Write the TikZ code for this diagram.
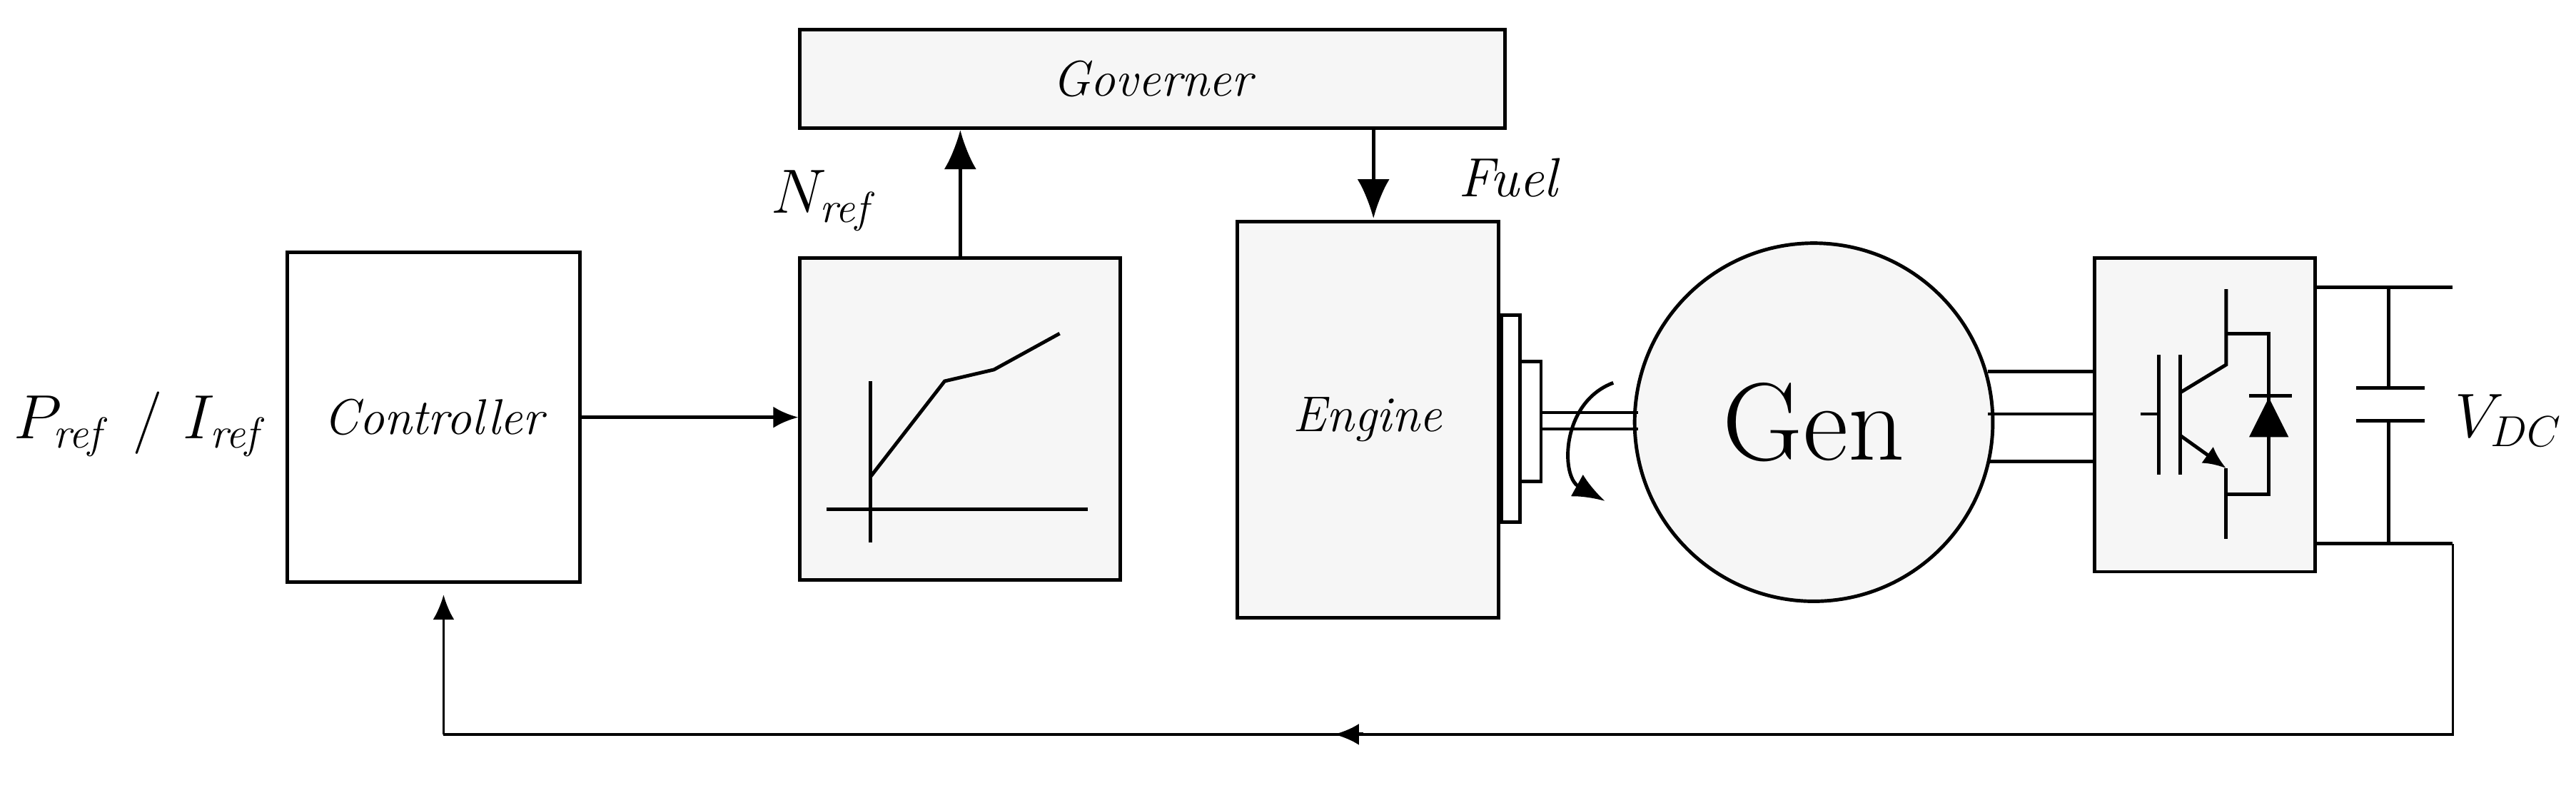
\documentclass[tikz,border=0pt]{standalone}
\usetikzlibrary{arrows.meta}
\usetikzlibrary{positioning}
\tikzset{
  blk/.style={draw,line width=1.4pt,fill=gray!7,inner sep=0pt},
  lbl/.style={font=\fontsize{20}{24}\selectfont\itshape},
  wire/.style={line width=1.4pt}
}
\begin{document}
\begin{tikzpicture}[x=0.023017cm,y=-0.023017cm,>={Latex[length=0.35cm,width=0.3cm]},line width=1.4pt]
\useasboundingbox (0,0) rectangle (1568,479.6);

\node[font=\fontsize{27}{32}\selectfont] (input) at (86,258) {$P_{\mathit{ref}}\ /\ I_{\mathit{ref}}$};
\node[blk,fill=white,minimum width=178*0.023017cm,minimum height=201*0.023017cm,lbl] (ctrl) at (264,254) {Controller};
\node[blk,minimum width=195*0.023017cm,minimum height=196*0.023017cm] (curve) at (584.5,255) {};
\node[blk,minimum width=429*0.023017cm,minimum height=60*0.023017cm,lbl] (gov) at (701.5,48) {Governer};
\node[blk,minimum width=159*0.023017cm,minimum height=241*0.023017cm,lbl] (engine) at (832.5,255.5) {Engine};
\node[blk,fill=white,minimum width=11*0.023017cm,minimum height=126*0.023017cm] (flange1) at (919.5,255) {};
\node[blk,fill=white,minimum width=13*0.023017cm,minimum height=73*0.023017cm] (flange2) at (931.5,256.5) {};
\node[blk,circle,minimum size=218*0.023017cm,font=\fontsize{44}{50}\selectfont] (gen) at (1104,257) {Gen};
\node[blk,minimum width=134*0.023017cm,minimum height=191*0.023017cm] (conv) at (1342,252.5) {};
\node[font=\fontsize{24}{28}\selectfont] (vdc) at (1527,256) {$V_{DC}$};
\node[font=\fontsize{24}{28}\selectfont] (nref) at (502,122) {$N_{\mathit{ref}}$};
\node[lbl,font=\fontsize{22}{26}\selectfont\itshape] (fuel) at (918,108) {Fuel};

% speed reference curve
\draw[wire] (530,232) -- (530,330);
\draw[wire] (503,310) -- (662,310);
\draw[wire] (530,290) -- (575,232) -- (605,225) -- (645,203);

% signal flow
\draw[->] (ctrl.east) -- (ctrl.east -| curve.west);
\draw[-{Latex[length=0.55cm,width=0.45cm]}] (curve.north) -- (curve.north |- gov.south);
\draw[-{Latex[length=0.55cm,width=0.45cm]}] (836,78) -- (836,133);

% shaft
\draw[wire,line width=1.2pt] (flange2.east |- 0,251) -- (997,251);
\draw[wire,line width=1.2pt] (flange2.east |- 0,261) -- (997,261);
\draw[-{Latex[length=0.45cm,width=0.35cm]}] (982,233) .. controls (950,245) and (950,290) .. (977,305);

% phase lines
\foreach \y in {226,252,281} \draw[wire] (1210,\y) -- (conv.west |- 0,\y);

% igbt and diode
\draw[wire] (1303,252) -- (1314,252);
\draw[wire] (1314,216) -- (1314,289);
\draw[wire] (1327,216) -- (1327,289);
\draw[wire] (1355,176) -- (1355,222) -- (1327,239);
\draw[-{Latex[length=0.32cm,width=0.28cm]}] (1327,265) -- (1355,285);
\draw[wire] (1355,285) -- (1355,328);
\draw[wire] (1355,203) -- (1381,203) -- (1381,301) -- (1355,301);
\fill (1369,266) -- (1393,266) -- (1381,242) -- cycle;
\draw[wire] (1369,241) -- (1395,241);

% dc link
\coordinate (dctop) at (1493,175);
\coordinate (dcbot) at (1493,331);
\draw[wire] (conv.east |- dctop) -- (dctop);
\draw[wire] (conv.east |- dcbot) -- (dcbot);
\draw[wire] (1454,175) -- (1454,236);
\draw[wire] (1434,236) -- (1476,236);
\draw[wire] (1434,256) -- (1476,256);
\draw[wire] (1454,256) -- (1454,331);

% feedback
\coordinate (fbr) at (1493,447);
\coordinate (fbl) at (270,447);
\draw[line width=1pt] (dcbot) -- (fbr) -- (fbl);
\draw[line width=1pt,->] (fbl) -- (270,362);
\draw[-{Latex[length=0.35cm,width=0.3cm]}] (830,447) -- (812,447);

\end{tikzpicture}
\end{document}
